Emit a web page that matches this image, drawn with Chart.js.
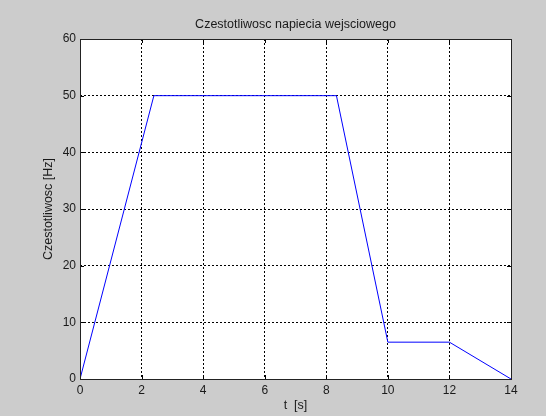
<!DOCTYPE html>
<html>
<head>
<meta charset="utf-8">
<script src="https://cdn.jsdelivr.net/npm/chart.js@4/dist/chart.umd.min.js"></script>
<style>
  html, body { margin: 0; padding: 0; background: #cccccc; }
  #wrap { width: 546px; height: 416px; }
</style>
</head>
<body>
<div id="wrap"><canvas id="c" width="546" height="416"></canvas></div>
<script>
// Frequency profile of the input voltage
const timeS = [0, 2.4, 8.33, 10, 12, 14];
const freqHz = [0, 50, 50, 6.5, 6.5, 0];
const xTicks = [0, 2, 4, 6, 8, 10, 12, 14];
const yTicks = [0, 10, 20, 30, 40, 50, 60];

const chartTitle = 'Czestotliwosc napiecia wejsciowego';
const xLabel = 't  [s]';
const yLabel = 'Czestotliwosc [Hz]';

const FONT = "'Liberation Sans', Arial, sans-serif";
const TEXT = '#1a1a1a';
const FS = 12.5;

// Figure background, axes frame, inward tick marks and a title centred over the axes
const framePlugin = {
  id: 'frame',
  beforeDraw(chart) {
    const { ctx, width, height, chartArea: a } = chart;
    ctx.save();
    ctx.fillStyle = '#cccccc';
    ctx.fillRect(0, 0, width, height);
    ctx.fillStyle = '#ffffff';
    ctx.fillRect(a.left, a.top, a.right - a.left, a.bottom - a.top);
    ctx.restore();
  },
  afterDatasetsDraw(chart) {
    const { ctx, chartArea: a, scales } = chart;
    const tl = 4;
    ctx.save();
    ctx.strokeStyle = '#000000';
    ctx.lineWidth = 1;
    ctx.beginPath();
    xTicks.forEach(v => {
      const x = Math.round(scales.x.getPixelForValue(v)) + 0.5;
      ctx.moveTo(x, a.bottom); ctx.lineTo(x, a.bottom - tl);
      ctx.moveTo(x, a.top); ctx.lineTo(x, a.top + tl);
    });
    yTicks.forEach(v => {
      const y = Math.round(scales.y.getPixelForValue(v)) + 0.5;
      ctx.moveTo(a.left, y); ctx.lineTo(a.left + tl, y);
      ctx.moveTo(a.right, y); ctx.lineTo(a.right - tl, y);
    });
    ctx.stroke();
    ctx.strokeStyle = '#222222';
    ctx.strokeRect(Math.round(a.left) + 0.5, Math.round(a.top) + 0.5,
                   Math.round(a.right - a.left), Math.round(a.bottom - a.top));

    ctx.fillStyle = TEXT;
    ctx.font = FS + "px " + FONT;
    ctx.textAlign = 'center';
    ctx.textBaseline = 'middle';
    ctx.fillText(chartTitle, (a.left + a.right) / 2, 25);
    ctx.restore();
  }
};

new Chart(document.getElementById('c'), {
  type: 'line',
  data: {
    datasets: [{
      data: timeS.map((t, i) => ({ x: t, y: freqHz[i] })),
      borderColor: '#0000ff',
      borderWidth: 1,
      pointRadius: 0,
      tension: 0,
      fill: false
    }]
  },
  options: {
    responsive: false,
    animation: false,
    layout: { padding: { left: 0, right: 35, top: 39, bottom: 0 } },
    plugins: {
      legend: { display: false },
      tooltip: { enabled: false },
      title: { display: false }
    },
    scales: {
      x: {
        type: 'linear',
        min: 0, max: 14,
        afterBuildTicks(s) { s.ticks = xTicks.map(v => ({ value: v })); },
        afterFit(s) { s.height = 37; },
        grid: {
          color: '#000000',
          lineWidth: 1,
          drawTicks: false
        },
        border: { display: false, dash: [2, 2] },
        ticks: {
          color: TEXT,
          padding: 4,
          maxRotation: 0,
          font: { family: FONT, size: 12 }
        },
        title: {
          display: true,
          text: xLabel,
          color: TEXT,
          font: { family: FONT, size: FS },
          padding: { top: 0, bottom: 3 }
        }
      },
      y: {
        min: 0, max: 60,
        afterBuildTicks(s) { s.ticks = yTicks.map(v => ({ value: v })); },
        afterFit(s) { s.width = 80; },
        grid: {
          color: '#000000',
          lineWidth: 1,
          drawTicks: false
        },
        border: { display: false, dash: [2, 2] },
        ticks: {
          color: TEXT,
          padding: 4,
          font: { family: FONT, size: 12 }
        },
        title: {
          display: true,
          text: yLabel,
          color: TEXT,
          font: { family: FONT, size: FS },
          padding: { top: 41, bottom: 0 }
        }
      }
    }
  },
  plugins: [framePlugin]
});
</script>
</body>
</html>
